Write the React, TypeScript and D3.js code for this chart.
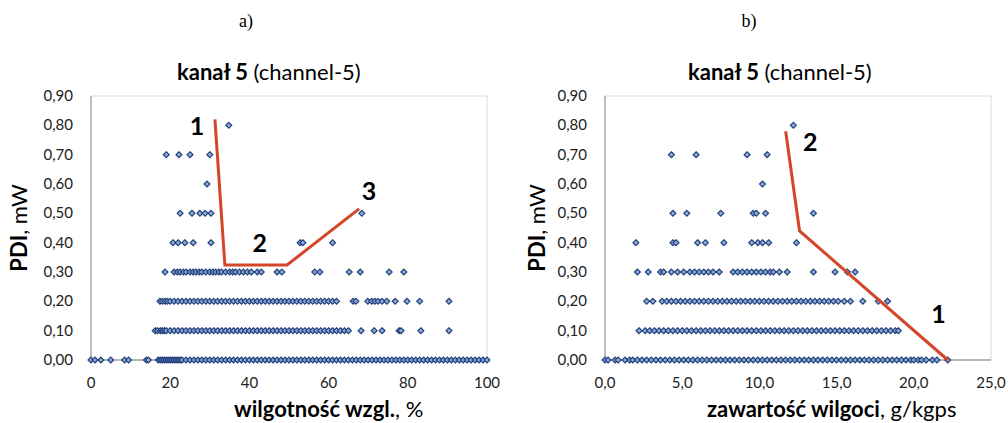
import * as React from "react";
import * as d3 from "d3";

// PDI levels (mW) at which the measurements sit
const pdiLevels = [0, 0.1, 0.2, 0.3, 0.4, 0.5, 0.6, 0.7, 0.8];
const pdiTicks = [0, 0.1, 0.2, 0.3, 0.4, 0.5, 0.6, 0.7, 0.8, 0.9];

// a) relative humidity, % - x values for each PDI level
const rhAt0 = [0, 1, 2.5, 5, 8.5, 9.5, 14, 14.5, 17, 17.5, 18, 18.5, 19, 19.5, 20, 20.5, 21, 21.5, 22, 22.5, 23, 24, 25, 26, 27, 28, 29, 30, 31, 32, 33, 34, 35, 36, 37, 38, 39, 40, 41, 42, 43, 44, 45, 46, 47, 48, 49, 50, 51, 52, 53, 54, 55, 56, 57, 58, 59, 60, 61, 62, 63, 64, 65, 66, 67, 68, 69, 70, 71, 72, 73, 74, 75, 76, 77, 78, 79, 80, 81, 82, 83, 84, 85, 86, 87, 88, 89, 90, 91, 92, 93, 94, 95, 96, 97, 98, 99, 100];
const rhAt10 = [16.2, 16.8, 17.5, 18, 18.5, 19, 20, 21, 22, 23, 24, 25, 26, 27, 28, 29, 30, 31, 32, 33, 34, 35, 36, 37, 38, 39, 40, 41, 42, 43, 44, 45, 46, 47, 48, 49, 50, 51, 52, 53, 54, 55, 56, 57, 58, 59, 60, 61, 62, 63, 64, 65, 68.2, 71.5, 73.5, 77.8, 78.3, 83.3, 90.4];
const rhAt20 = [17.4, 18, 18.7, 19.3, 20, 21, 22, 23, 24, 25, 26, 27, 28, 29, 30, 31, 32, 33, 34, 35, 36, 37, 38, 39, 40, 41, 42, 43, 44, 45, 46, 47, 48, 49, 50, 51, 52, 53, 54, 55, 56, 57, 58, 59, 60, 61, 62, 66.2, 66.9, 69.9, 70.9, 71.7, 72.5, 73.5, 74.7, 76.8, 79.8, 83, 90.4];
const rhAt30 = [18.7, 21, 21.8, 22.5, 23.3, 24, 25, 25.8, 26.5, 27.3, 28, 29, 30, 30.8, 31.5, 32.3, 33, 34, 35, 35.8, 36.5, 37.5, 38.5, 39.5, 40.5, 42, 43, 47, 48.2, 56.5, 57.8, 65.2, 68, 75.3, 79];
const rhAt40 = [20.7, 22, 23.7, 25.8, 30.3, 52.8, 53.5, 61];
const rhAt50 = [22.5, 25.5, 27.5, 28.8, 30.3, 68.4];
const rhAt60 = [29.3];
const rhAt70 = [19, 22.2, 25, 30];
const rhAt80 = [34.8];
const rhTicks = [0, 20, 40, 60, 80, 100];
const rhTrend = [
  { x: 31.3, y: 0.82 },
  { x: 33.8, y: 0.324 },
  { x: 49.5, y: 0.324 },
  { x: 67.7, y: 0.515 },
];
const rhNotes = [
  { text: "1", x: 26.8, y: 0.767 },
  { text: "2", x: 42.6, y: 0.368 },
  { text: "3", x: 70.2, y: 0.546 },
];

// b) moisture content, g/kg dry air
const ahAt0 = [0, 0.2, 0.65, 0.85, 1.3, 1.6, 1.8, 2.1, 2.4, 2.7, 3, 3.3, 3.6, 3.9, 4.2, 4.5, 4.8, 5.1, 5.4, 5.7, 6, 6.3, 6.6, 6.9, 7.2, 7.5, 7.8, 8.1, 8.4, 8.7, 9, 9.3, 9.6, 9.9, 10.2, 10.5, 10.8, 11.1, 11.4, 11.7, 12, 12.3, 12.6, 12.9, 13.2, 13.5, 13.8, 14.1, 14.4, 14.7, 15, 15.3, 15.6, 15.9, 16.2, 16.5, 16.8, 17.1, 17.4, 17.7, 18, 18.3, 18.6, 18.9, 19.2, 19.5, 19.8, 20, 20.3, 20.5, 20.8, 21.2, 21.5, 22.2];
const ahAt10 = [2.2, 2.6, 2.9, 3.2, 3.5, 3.8, 4.1, 4.4, 4.7, 5, 5.3, 5.6, 5.9, 6.2, 6.5, 6.8, 7.1, 7.4, 7.7, 8, 8.3, 8.6, 8.9, 9.2, 9.5, 9.8, 10.1, 10.4, 10.7, 11, 11.3, 11.6, 11.9, 12.2, 12.5, 12.8, 13.1, 13.4, 13.7, 14, 14.3, 14.6, 14.9, 15.2, 15.5, 15.8, 16.1, 16.4, 16.7, 17, 17.3, 17.6, 17.9, 18.2, 18.5, 18.8, 19];
const ahAt20 = [2.7, 3.1, 3.7, 4, 4.3, 4.6, 4.9, 5.2, 5.5, 5.8, 6.1, 6.4, 6.7, 7, 7.3, 7.6, 7.9, 8.2, 8.5, 8.8, 9.1, 9.4, 9.7, 10, 10.3, 10.6, 10.9, 11.2, 11.5, 11.8, 12.1, 12.4, 12.7, 13, 13.3, 13.6, 13.9, 14.2, 14.5, 14.8, 15.1, 15.5, 15.9, 16.7, 17.7, 18.3];
const ahAt30 = [2.1, 2.8, 3.6, 3.8, 4.3, 4.7, 5.1, 5.5, 5.8, 6.1, 6.4, 6.7, 7, 7.4, 8.3, 8.6, 8.9, 9.2, 9.5, 9.8, 10.1, 10.4, 10.7, 10.9, 11.3, 11.8, 13.5, 14.9, 15.7, 16.2];
const ahAt40 = [2, 4.4, 4.6, 6, 6.5, 7.7, 9.5, 9.9, 10.2, 10.6, 12.4];
const ahAt50 = [4.4, 5.3, 7.5, 9.6, 9.8, 10.4, 13.5];
const ahAt60 = [10.2];
const ahAt70 = [4.3, 5.9, 9.2, 10.5];
const ahAt80 = [12.2];
const ahTicks = [0, 5, 10, 15, 20, 25];
const ahTrend = [
  { x: 11.7, y: 0.78 },
  { x: 12.6, y: 0.44 },
  { x: 22.2, y: 0 },
];
const ahNotes = [
  { text: "2", x: 13.3, y: 0.713 },
  { text: "1", x: 21.6, y: 0.126 },
];

const rhRows = [rhAt0, rhAt10, rhAt20, rhAt30, rhAt40, rhAt50, rhAt60, rhAt70, rhAt80];
const ahRows = [ahAt0, ahAt10, ahAt20, ahAt30, ahAt40, ahAt50, ahAt60, ahAt70, ahAt80];

const FONT = "Lato, 'DejaVu Sans', sans-serif";
const comma = (s: string) => s.replace(".", ",");

type Props = {
  left: number;
  right: number;
  xMax: number;
  xTicks: number[];
  xFmt: (v: number) => string;
  rows: number[][];
  trend: { x: number; y: number }[];
  notes: { text: string; x: number; y: number }[];
  letter: string;
  letterX: number;
  titleX: number;
  xLabelX: number;
  xLabelBold: string;
  xLabelRest: string;
  yLabelX: number;
};

const top = 96;
const bottom = 360;

function Panel(p: Props) {
  const x = d3.scaleLinear().domain([0, p.xMax]).range([p.left, p.right]);
  const y = d3.scaleLinear().domain([0, 0.9]).range([bottom, top]);
  const diamond = d3.symbol(d3.symbolDiamond2, 22)() as string;
  const line = d3
    .line<{ x: number; y: number }>()
    .x((d) => x(d.x))
    .y((d) => y(d.y));
  const yFmt = (v: number) => comma(d3.format(".2f")(v));

  return (
    <g fontFamily={FONT}>
      <text x={p.letterX} y={27} textAnchor="middle" fontFamily="'Liberation Serif', serif" fontSize={18}>
        {p.letter}
      </text>
      <text x={p.titleX} y={80} fontSize={22} fill="#000">
        <tspan fontWeight="bold">kanał 5</tspan>
        <tspan> (channel-5)</tspan>
      </text>
      <rect x={p.left} y={top} width={p.right - p.left} height={bottom - top} fill="none" stroke="#d9d9d9" />
      <line x1={p.left} x2={p.left} y1={top} y2={bottom} stroke="#a6a6a6" strokeWidth={1.3} />
      <line x1={p.left} x2={p.right} y1={bottom} y2={bottom} stroke="#a6a6a6" strokeWidth={1.3} />
      {pdiTicks.map((t) => (
        <text key={t} x={p.left - 18} y={y(t) + 5} textAnchor="end" fontSize={15} fill="#222">
          {yFmt(t)}
        </text>
      ))}
      {p.xTicks.map((t) => (
        <text key={t} x={x(t)} y={388} textAnchor="middle" fontSize={15} fill="#222">
          {p.xFmt(t)}
        </text>
      ))}
      {p.rows.map((xs, i) =>
        xs.map((v, j) => (
          <path
            key={`${i}-${j}`}
            d={diamond}
            transform={`translate(${x(v)},${y(pdiLevels[i])})`}
            fill="#8fa9d6"
            stroke="#20407b"
            strokeWidth={1.2}
          />
        ))
      )}
      <path d={line(p.trend) as string} fill="none" stroke="#d4462a" strokeWidth={3} />
      {p.notes.map((n) => (
        <text key={n.text} x={x(n.x)} y={y(n.y)} textAnchor="middle" fontSize={25} fontWeight="bold" fill="#000">
          {n.text}
        </text>
      ))}
      <text x={p.xLabelX} y={417} fontSize={22} fill="#000">
        <tspan fontWeight="bold">{p.xLabelBold}</tspan>
        <tspan>{p.xLabelRest}</tspan>
      </text>
      <text
        transform={`translate(${p.yLabelX},${(top + bottom) / 2}) rotate(-90)`}
        textAnchor="middle"
        fontSize={22}
        fill="#000"
      >
        <tspan fontWeight="bold">PDI</tspan>
        <tspan>, mW</tspan>
      </text>
    </g>
  );
}

export default function App() {
  return (
    <svg
      width={1008}
      height={423}
      style={{ position: "absolute", left: 0, top: 0, background: "#fff" }}
    >
      <Panel
        left={91}
        right={487}
        xMax={100}
        xTicks={rhTicks}
        xFmt={(v) => String(v)}
        rows={rhRows}
        trend={rhTrend}
        notes={rhNotes}
        letter="a)"
        letterX={246}
        titleX={177}
        xLabelX={234}
        xLabelBold="wilgotność wzgl."
        xLabelRest=", %"
        yLabelX={27}
      />
      <Panel
        left={605}
        right={991}
        xMax={25}
        xTicks={ahTicks}
        xFmt={(v) => comma(d3.format(".1f")(v))}
        rows={ahRows}
        trend={ahTrend}
        notes={ahNotes}
        letter="b)"
        letterX={749}
        titleX={688}
        xLabelX={707}
        xLabelBold="zawartość wilgoci"
        xLabelRest=", g/kgps"
        yLabelX={545}
      />
    </svg>
  );
}
